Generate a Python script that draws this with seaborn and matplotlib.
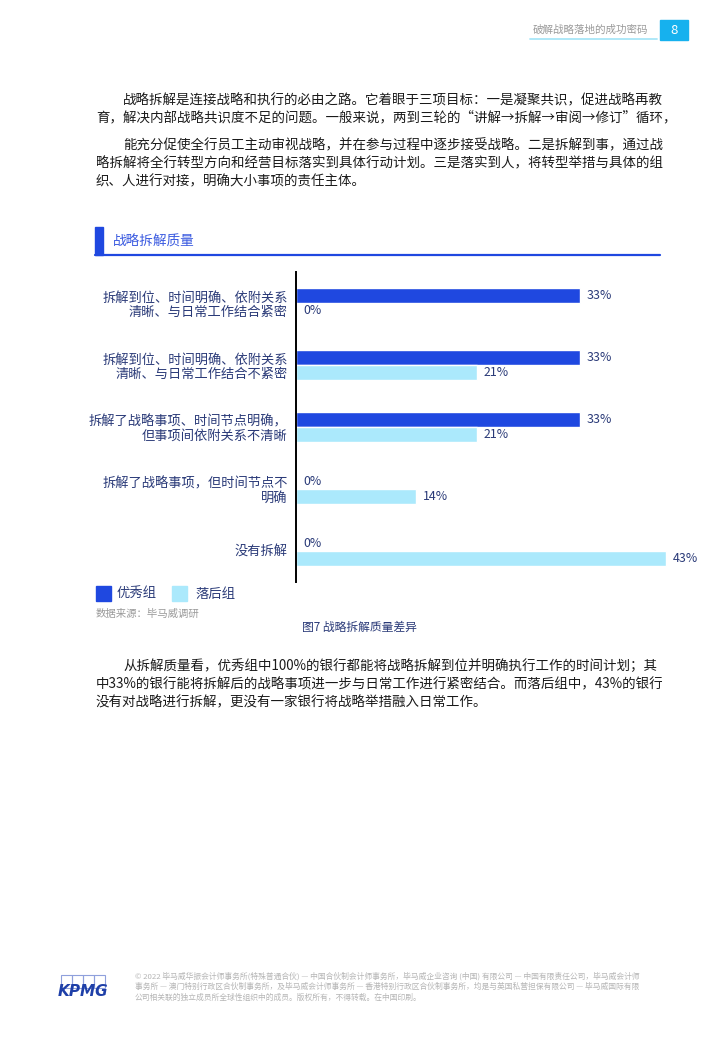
import matplotlib
matplotlib.use("Agg")
import matplotlib.pyplot as plt
from matplotlib.patches import Rectangle
import pandas as pd
import seaborn as sns

sns.set_theme(style="white")
plt.rcParams["font.family"] = ["Noto Sans CJK SC", "DejaVu Sans"]

# ---- data ----
categories = [
    "拆解到位、时间明确、依附关系\n清晰、与日常工作结合紧密",
    "拆解到位、时间明确、依附关系\n清晰、与日常工作结合不紧密",
    "拆解了战略事项、时间节点明确，\n但事项间依附关系不清晰",
    "拆解了战略事项，但时间节点不\n明确",
    "没有拆解",
]
groups = ["优秀组", "落后组"]
good_values = [33, 33, 33, 0, 0]
poor_values = [0, 21, 21, 14, 43]

W, H = 719, 1039
DARK = "#1f48e0"
LIGHT = "#abe9fc"
NAVY = "#2a3a78"
TEXT = "#1a1a1a"
GREY = "#9a9a9a"


def fx(x):
    return x / W


def fy(y):
    return 1 - y / H


df = pd.DataFrame({
    "category": categories * 2,
    "group": [groups[0]] * len(categories) + [groups[1]] * len(categories),
    "value": good_values + poor_values,
})

fig = plt.figure(figsize=(W / 100, H / 100), dpi=100)
fig.patch.set_facecolor("white")

# ---- header ----
fig.text(fx(648), fy(30), "破解战略落地的成功密码", ha="right", va="center",
         fontsize=7.6, color=GREY)
fig.add_artist(plt.Line2D([fx(530), fx(657)], [fy(39), fy(39)],
                          color="#a8e6f8", lw=1.3, transform=fig.transFigure))
fig.add_artist(Rectangle((fx(660), fy(40)), fx(688) - fx(660), fy(20) - fy(40),
                         color="#16b1ee", transform=fig.transFigure))
fig.text(fx(674), fy(30), "8", ha="center", va="center", fontsize=9.5, color="white")

# ---- top paragraph ----
para_fs = 9.7
top_lines = [
    (123, 100, "战略拆解是连接战略和执行的必由之路。它着眼于三项目标：一是凝聚共识，促进战略再教"),
    (96, 117, "育，解决内部战略共识度不足的问题。一般来说，两到三轮的“讲解→拆解→审阅→修订”循环，"),
    (123, 145, "能充分促使全行员工主动审视战略，并在参与过程中逐步接受战略。二是拆解到事，通过战"),
    (96, 163, "略拆解将全行转型方向和经营目标落实到具体行动计划。三是落实到人，将转型举措与具体的组"),
    (96, 181, "织、人进行对接，明确大小事项的责任主体。"),
]
for x, y, s in top_lines:
    fig.text(fx(x), fy(y), s, ha="left", va="center", fontsize=para_fs, color=TEXT)

# ---- chart title ----
fig.add_artist(Rectangle((fx(95), fy(255)), fx(103) - fx(95), fy(227) - fy(255),
                         color=DARK, transform=fig.transFigure))
fig.add_artist(plt.Line2D([fx(95), fx(660)], [fy(255), fy(255)],
                          color=DARK, lw=1.6, transform=fig.transFigure))
fig.text(fx(113), fy(242), "战略拆解质量", ha="left", va="center",
         fontsize=9.8, color="#3a5ae0")

# ---- bar chart ----
ax = fig.add_axes([fx(296), fy(582), 387 / W, 310 / H])
sns.barplot(data=df, y="category", x="value", hue="group", hue_order=groups,
            order=categories, palette=[DARK, LIGHT], width=0.49, orient="h",
            ax=ax, legend=False, saturation=1)
ax.set_xlim(0, 45)
ax.set_ylim(4.5, -0.5)
ax.set_xlabel("")
ax.set_ylabel("")
ax.set_xticks([])
for side in ["top", "right", "bottom"]:
    ax.spines[side].set_visible(False)
ax.spines["left"].set_color("black")
ax.spines["left"].set_linewidth(1.4)
ax.tick_params(axis="y", length=0, pad=6, labelsize=9.5, labelcolor=NAVY)
for lbl in ax.get_yticklabels():
    lbl.set_linespacing(1.15)
for cont in ax.containers:
    ax.bar_label(cont, labels=[f"{v:.0f}%" for v in cont.datavalues],
                 padding=5, fontsize=8.9, color=NAVY)

# ---- legend ----
fig.add_artist(Rectangle((fx(96), fy(601)), 15 / W, 15 / H, color=DARK,
                         transform=fig.transFigure))
fig.text(fx(117), fy(594), "优秀组", ha="left", va="center", fontsize=9.6, color=NAVY)
fig.add_artist(Rectangle((fx(172), fy(601)), 15 / W, 15 / H, color=LIGHT,
                         transform=fig.transFigure))
fig.text(fx(195), fy(594), "落后组", ha="left", va="center", fontsize=9.6, color=NAVY)

fig.text(fx(96), fy(614), "数据来源：毕马威调研", ha="left", va="center",
         fontsize=7.5, color=GREY)
fig.text(fx(359), fy(627), "图7 战略拆解质量差异", ha="center", va="center",
         fontsize=8.5, color=NAVY)

# ---- bottom paragraph ----
bottom_lines = [
    (123, 666, "从拆解质量看，优秀组中100%的银行都能将战略拆解到位并明确执行工作的时间计划；其"),
    (96, 684, "中33%的银行能将拆解后的战略事项进一步与日常工作进行紧密结合。而落后组中，43%的银行"),
    (96, 702, "没有对战略进行拆解，更没有一家银行将战略举措融入日常工作。"),
]
for x, y, s in bottom_lines:
    fig.text(fx(x), fy(y), s, ha="left", va="center", fontsize=para_fs, color=TEXT)

# ---- footer ----
for i in range(4):
    fig.add_artist(Rectangle((fx(61 + i * 11), fy(988)), 11 / W, 13 / H,
                             fill=False, ec="#8fa0dc", lw=0.8,
                             transform=fig.transFigure))
fig.text(fx(83), fy(991), "KPMG", ha="center", va="center", fontsize=11,
         fontweight="bold", fontstyle="italic", color="#1e3fa8",
         family=["DejaVu Sans"])
footer_lines = [
    "© 2022 毕马威华振会计师事务所(特殊普通合伙) — 中国合伙制会计师事务所，毕马威企业咨询 (中国) 有限公司 — 中国有限责任公司，毕马威会计师",
    "事务所 — 澳门特别行政区合伙制事务所，及毕马威会计师事务所 — 香港特别行政区合伙制事务所，均是与英国私营担保有限公司 — 毕马威国际有限",
    "公司相关联的独立成员所全球性组织中的成员。版权所有，不得转载。在中国印刷。",
]
for i, s in enumerate(footer_lines):
    fig.text(fx(135), fy(976 + i * 11), s, ha="left", va="center",
             fontsize=5.6, color="#b5b5b5")

fig.savefig("out.png", dpi=100)
plt.close(fig)
